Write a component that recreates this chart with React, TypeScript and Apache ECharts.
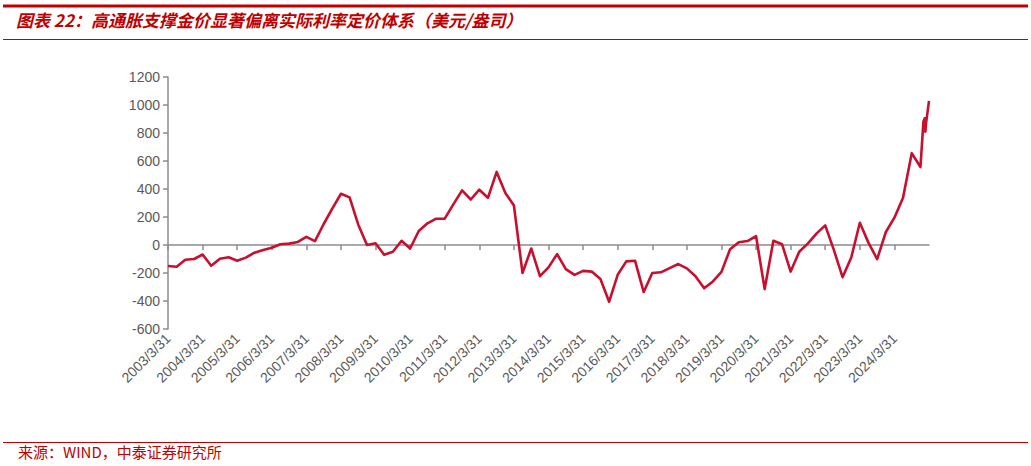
import React, { useEffect, useRef } from "react";
import * as echarts from "echarts";

const TITLE = "图表 22：高通胀支撑金价显著偏离实际利率定价体系（美元/盎司）";
const SOURCE = "来源：WIND，中泰证券研究所";

const quarterEnds = ["3/31", "6/30", "9/30", "12/31"];
const years = [2003, 2004, 2005, 2006, 2007, 2008, 2009, 2010, 2011, 2012, 2013,
  2014, 2015, 2016, 2017, 2018, 2019, 2020, 2021, 2022, 2023, 2024];

// Quarterly values, 2003/3/31 .. 2024/12/31
const quarterlyValues = [
  -150, -155, -105, -100,
  -68, -148, -98, -88,
  -113, -90, -55, -35,
  -20, 5, 10, 22,
  58, 28, 150, 262,
  366, 340, 145, 0,
  12, -70, -48, 30,
  -25, 100, 155, 188,
  188, 290, 390, 325,
  395, 337, 522, 372,
  282, -200, -25, -223,
  -160, -65, -172, -213,
  -185, -190, -243, -405,
  -213, -117, -112, -336,
  -200, -195, -165, -136,
  -167, -223, -309, -260,
  -192, -30, 20, 28,
  64, -315, 30, 5,
  -190, -48, 12, 83,
  140, -35, -230, -89,
  159, 17, -101, 93,
  195, 337, 656, 557,
];

// Higher-frequency points in early 2025
const extraDates = ["2025/1/31", "2025/2/14", "2025/2/21", "2025/2/28", "2025/3/31"];
const extraValues = [880, 905, 810, 870, 1030];

const xRange = [2003, 2025];
const yMin = -600;
const yMax = 1200;
const yStep = 200;

function toAxisYear(dateStr: string): number {
  const [y, m, d] = dateStr.split("/").map(Number);
  const t = Date.UTC(y, m - 1, d);
  const base = Date.UTC(y, 2, 31);
  return y + (t - base) / (365.25 * 86400000);
}

export default function App() {
  const ref = useRef<HTMLDivElement>(null);
  useEffect(() => {
    document.body.style.margin = "0";
    if (!ref.current) return;
    const chart = echarts.init(ref.current, null, { renderer: "svg" });

    const dates: string[] = [];
    years.forEach((y) => quarterEnds.forEach((q) => dates.push(`${y}/${q}`)));
    const allDates = dates.concat(extraDates);
    const allValues = quarterlyValues.concat(extraValues);
    const data = allDates.map((d, i) => [toAxisYear(d), allValues[i]]);

    const red = "#C00000";
    const lineRed = "#C8102E";
    const gray = "#8C8C8C";
    const labelGray = "#595959";
    const fontFamily = "'Liberation Sans', Arial, sans-serif";

    chart.setOption({
      animation: false,
      backgroundColor: "#ffffff",
      grid: { left: 168, right: 102, top: 77, bottom: 137, containLabel: false },
      xAxis: [
        {
          type: "value",
          position: "bottom",
          min: xRange[0],
          max: xRange[1],
          interval: 1,
          axisLine: { show: false, onZero: false },
          axisTick: { show: false },
          splitLine: { show: false },
          axisLabel: {
            rotate: 45,
            margin: 7,
            fontSize: 14,
            color: labelGray,
            fontFamily,
            formatter: (v: number) => (v === xRange[1] ? "" : `${v}/3/31`),
          },
        },
        {
          type: "value",
          position: "bottom",
          min: xRange[0],
          max: xRange[1],
          interval: 1,
          axisLine: { show: true, onZero: true, lineStyle: { color: gray, width: 1.5 } },
          axisTick: { show: true, length: 5, customValues: years, lineStyle: { color: gray, width: 1.5 } },
          splitLine: { show: false },
          axisLabel: { show: false },
        },
      ],
      yAxis: {
        type: "value",
        min: yMin,
        max: yMax,
        interval: yStep,
        axisLine: { show: true, lineStyle: { color: gray, width: 1.5 } },
        axisTick: { show: true, length: 5, lineStyle: { color: gray, width: 1.5 } },
        splitLine: { show: false },
        axisLabel: { fontSize: 14, color: labelGray, fontFamily, margin: 8, formatter: (v: number) => String(v) },
      },
      series: [
        {
          type: "line",
          xAxisIndex: 1,
          data,
          showSymbol: false,
          symbol: "none",
          lineStyle: { color: lineRed, width: 2.6, join: "round" },
          z: 5,
        },
      ],
      graphic: [
        { type: "line", shape: { x1: 3, y1: 6, x2: 1028, y2: 6 }, style: { stroke: red, lineWidth: 3 } },
        {
          type: "text",
          left: 16,
          top: 11,
          style: {
            text: TITLE,
            fill: red,
            font: "italic bold 17px 'Noto Sans CJK SC', sans-serif",
          },
        },
        { type: "line", shape: { x1: 3, y1: 39.5, x2: 1028, y2: 39.5 }, style: { stroke: red, lineWidth: 1 } },
        { type: "line", shape: { x1: 3, y1: 442.5, x2: 1028, y2: 442.5 }, style: { stroke: red, lineWidth: 1 } },
        {
          type: "text",
          left: 18,
          top: 444,
          style: {
            text: SOURCE,
            fill: red,
            font: "15px 'Noto Sans CJK SC', sans-serif",
          },
        },
      ],
    });
    return () => chart.dispose();
  }, []);
  return <div ref={ref} style={{ width: 1031, height: 466 }} />;
}
